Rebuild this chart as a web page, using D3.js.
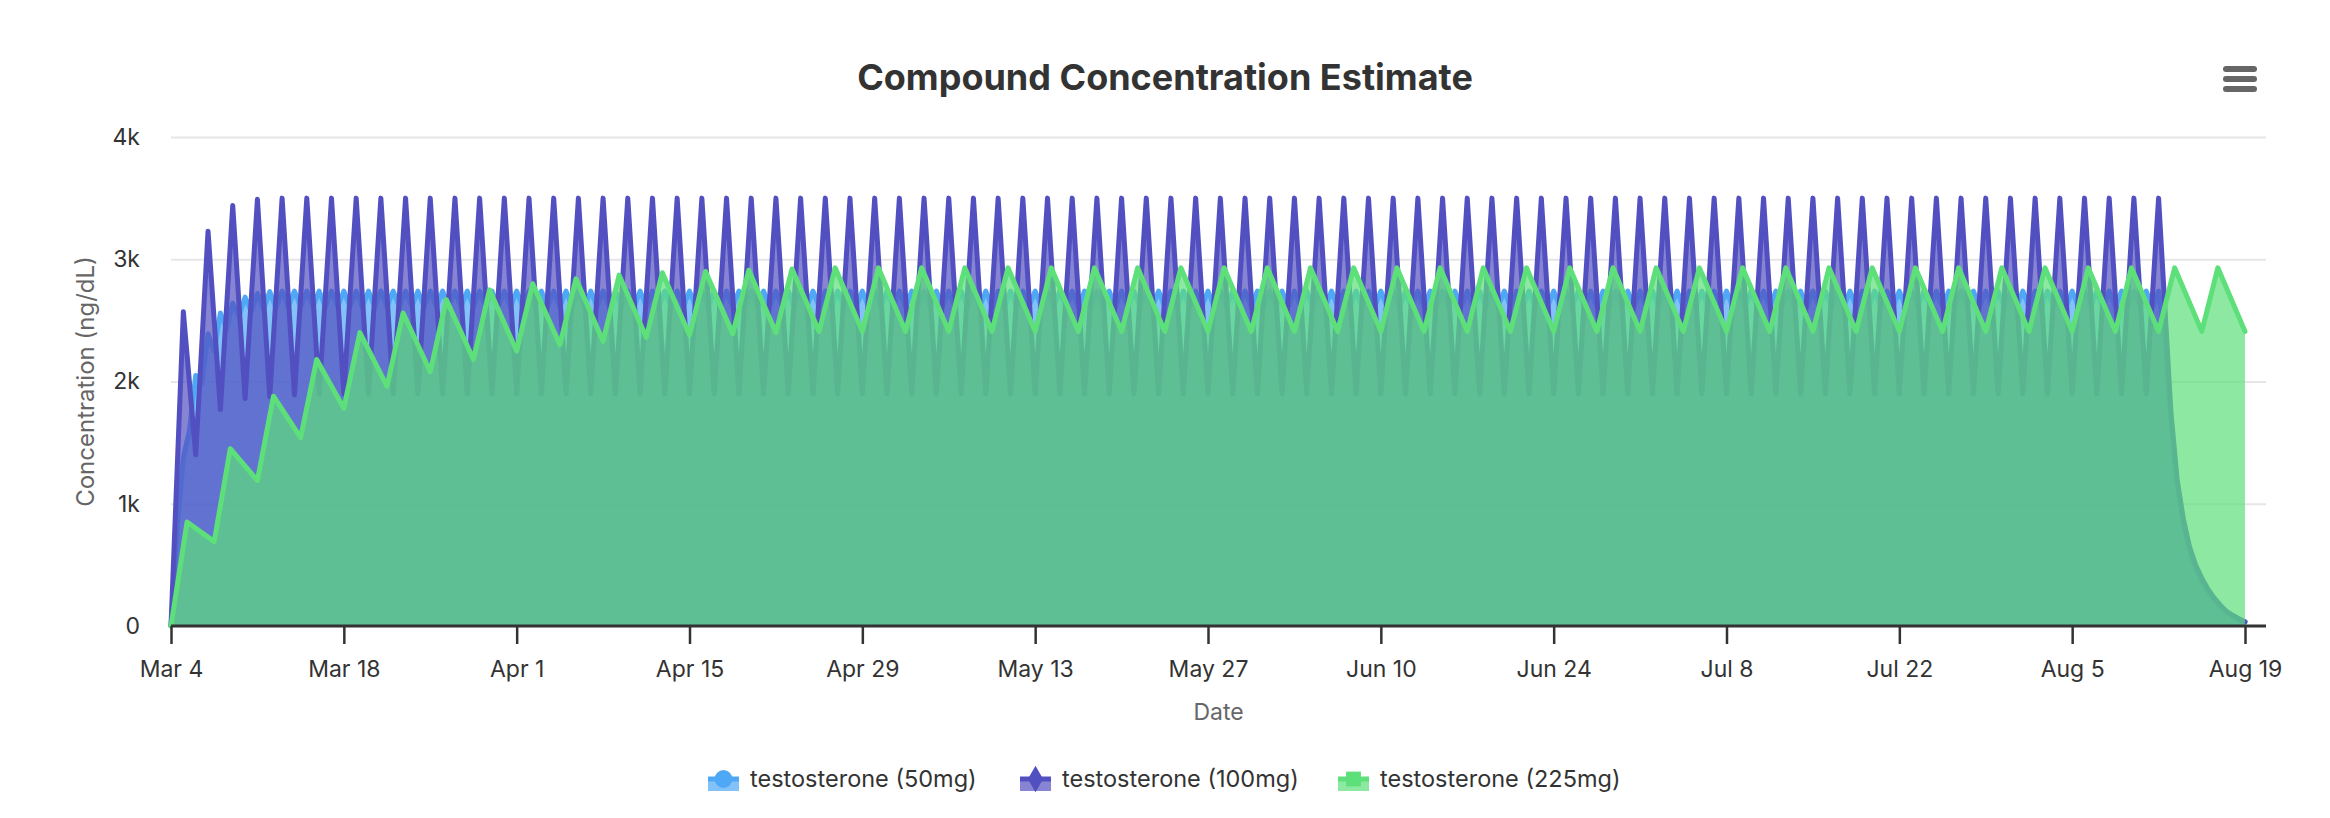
<!DOCTYPE html>
<html>
<head>
<meta charset="utf-8">
<script src="https://cdn.jsdelivr.net/npm/d3@7"></script>
<style>
  html, body { margin: 0; padding: 0; background: #fff; }
  svg text { font-family: "Inter", "Noto Sans", "DejaVu Sans", sans-serif; }
</style>
</head>
<body>
<div id="chart"></div>
<script>
// start / end of the simulated period
const startDate = "2024-03-04";
const endDate = "2024-08-19";
const tickDates = ["2024-03-04", "2024-03-18", "2024-04-01", "2024-04-15", "2024-04-29", "2024-05-13",
  "2024-05-27", "2024-06-10", "2024-06-24", "2024-07-08", "2024-07-22", "2024-08-05", "2024-08-19"];
const yTicks = [0, 1000, 2000, 3000, 4000];

const seriesNames = ["testosterone (50mg)", "testosterone (100mg)", "testosterone (225mg)"];

// 50mg daily: value at each whole day (day 0..161) and at each half day (0.5..160.5)
const blueDay = [
  0, 1380, 2050, 2390, 2560, 2640, 2690, 2720, 2735, 2740,
  2740, 2740, 2740, 2740, 2740, 2740, 2740, 2740, 2740, 2740,
  2740, 2740, 2740, 2740, 2740, 2740, 2740, 2740, 2740, 2740,
  2740, 2740, 2740, 2740, 2740, 2740, 2740, 2740, 2740, 2740,
  2740, 2740, 2740, 2740, 2740, 2740, 2740, 2740, 2740, 2740,
  2740, 2740, 2740, 2740, 2740, 2740, 2740, 2740, 2740, 2740,
  2740, 2740, 2740, 2740, 2740, 2740, 2740, 2740, 2740, 2740,
  2740, 2740, 2740, 2740, 2740, 2740, 2740, 2740, 2740, 2740,
  2740, 2740, 2740, 2740, 2740, 2740, 2740, 2740, 2740, 2740,
  2740, 2740, 2740, 2740, 2740, 2740, 2740, 2740, 2740, 2740,
  2740, 2740, 2740, 2740, 2740, 2740, 2740, 2740, 2740, 2740,
  2740, 2740, 2740, 2740, 2740, 2740, 2740, 2740, 2740, 2740,
  2740, 2740, 2740, 2740, 2740, 2740, 2740, 2740, 2740, 2740,
  2740, 2740, 2740, 2740, 2740, 2740, 2740, 2740, 2740, 2740,
  2740, 2740, 2740, 2740, 2740, 2740, 2740, 2740, 2740, 2740,
  2740, 2740, 2740, 2740, 2740, 2740, 2740, 2740, 2740, 2740,
  2740, 2740
];
const blueHalf = [
  800, 1600, 1980, 2250, 2430, 2530, 2570, 2590, 2600, 2610,
  2610, 2610, 2610, 2610, 2610, 2610, 2610, 2610, 2610, 2610,
  2610, 2610, 2610, 2610, 2610, 2610, 2610, 2610, 2610, 2610,
  2610, 2610, 2610, 2610, 2610, 2610, 2610, 2610, 2610, 2610,
  2610, 2610, 2610, 2610, 2610, 2610, 2610, 2610, 2610, 2610,
  2610, 2610, 2610, 2610, 2610, 2610, 2610, 2610, 2610, 2610,
  2610, 2610, 2610, 2610, 2610, 2610, 2610, 2610, 2610, 2610,
  2610, 2610, 2610, 2610, 2610, 2610, 2610, 2610, 2610, 2610,
  2610, 2610, 2610, 2610, 2610, 2610, 2610, 2610, 2610, 2610,
  2610, 2610, 2610, 2610, 2610, 2610, 2610, 2610, 2610, 2610,
  2610, 2610, 2610, 2610, 2610, 2610, 2610, 2610, 2610, 2610,
  2610, 2610, 2610, 2610, 2610, 2610, 2610, 2610, 2610, 2610,
  2610, 2610, 2610, 2610, 2610, 2610, 2610, 2610, 2610, 2610,
  2610, 2610, 2610, 2610, 2610, 2610, 2610, 2610, 2610, 2610,
  2610, 2610, 2610, 2610, 2610, 2610, 2610, 2610, 2610, 2610,
  2610, 2610, 2610, 2610, 2610, 2610, 2610, 2610, 2610, 2610,
  2610
];
const blueTail = [[161.5, 2350], [162, 1700], [162.5, 1150], [163, 840], [163.5, 620], [164, 470],
  [164.5, 360], [165, 280], [165.5, 215], [166, 160], [166.5, 115], [167, 80], [167.5, 52], [168, 30]];

// 100mg every 2 days: troughs on even days (0..160), peaks on odd days (1..161)
const purpleTroughs = [
  0, 1400, 1770, 1860, 1875, 1890, 1900, 1900, 1900, 1900,
  1900, 1900, 1900, 1900, 1900, 1900, 1900, 1900, 1900, 1900,
  1900, 1900, 1900, 1900, 1900, 1900, 1900, 1900, 1900, 1900,
  1900, 1900, 1900, 1900, 1900, 1900, 1900, 1900, 1900, 1900,
  1900, 1900, 1900, 1900, 1900, 1900, 1900, 1900, 1900, 1900,
  1900, 1900, 1900, 1900, 1900, 1900, 1900, 1900, 1900, 1900,
  1900, 1900, 1900, 1900, 1900, 1900, 1900, 1900, 1900, 1900,
  1900, 1900, 1900, 1900, 1900, 1900, 1900, 1900, 1900, 1900,
  1900
];
const purplePeaks = [
  2570, 3230, 3440, 3490, 3500, 3500, 3500, 3500, 3500, 3500,
  3500, 3500, 3500, 3500, 3500, 3500, 3500, 3500, 3500, 3500,
  3500, 3500, 3500, 3500, 3500, 3500, 3500, 3500, 3500, 3500,
  3500, 3500, 3500, 3500, 3500, 3500, 3500, 3500, 3500, 3500,
  3500, 3500, 3500, 3500, 3500, 3500, 3500, 3500, 3500, 3500,
  3500, 3500, 3500, 3500, 3500, 3500, 3500, 3500, 3500, 3500,
  3500, 3500, 3500, 3500, 3500, 3500, 3500, 3500, 3500, 3500,
  3500, 3500, 3500, 3500, 3500, 3500, 3500, 3500, 3500, 3500,
  3500
];
const purpleTail = [[162, 1750], [162.5, 1200], [163, 880], [163.5, 650], [164, 500], [164.5, 390],
  [165, 300], [165.5, 230], [166, 170], [166.5, 120], [167, 88], [167.5, 60], [168, 35]];

// 225mg every 3.5 days: troughs at each dose, peaks 1.3 days later
const greenInterval = 3.5;
const greenPeakLag = 1.3;
const greenTroughs = [
  0, 690, 1190, 1540, 1780, 1960, 2080, 2180, 2250, 2300,
  2330, 2360, 2380, 2390, 2400, 2410, 2410, 2410, 2410, 2410,
  2410, 2410, 2410, 2410, 2410, 2410, 2410, 2410, 2410, 2410,
  2410, 2410, 2410, 2410, 2410, 2410, 2410, 2410, 2410, 2410,
  2410, 2410, 2410, 2410, 2410, 2410, 2410, 2410, 2410
];
const greenPeaks = [
  850, 1450, 1880, 2180, 2400, 2560, 2670, 2750, 2800, 2840,
  2870, 2890, 2900, 2910, 2920, 2930, 2930, 2930, 2930, 2930,
  2930, 2930, 2930, 2930, 2930, 2930, 2930, 2930, 2930, 2930,
  2930, 2930, 2930, 2930, 2930, 2930, 2930, 2930, 2930, 2930,
  2930, 2930, 2930, 2930, 2930, 2930, 2930, 2930
];

// build [day, value] series
const blueData = [];
blueDay.forEach((v, i) => {
  blueData.push([i, v]);
  if (i < blueHalf.length) blueData.push([i + 0.5, blueHalf[i]]);
});
blueTail.forEach(p => blueData.push(p));

const purpleData = [];
purpleTroughs.forEach((v, i) => {
  purpleData.push([i * 2, v]);
  if (i < purplePeaks.length) purpleData.push([i * 2 + 1, purplePeaks[i]]);
});
purpleTail.forEach(p => purpleData.push(p));

const greenData = [];
greenTroughs.forEach((v, i) => {
  greenData.push([i * greenInterval, v]);
  if (i < greenPeaks.length) greenData.push([i * greenInterval + greenPeakLag, greenPeaks[i]]);
});

const series = [
  { name: seriesNames[0], data: blueData, color: "#4fa8f5", marker: "circle" },
  { name: seriesNames[1], data: purpleData, color: "#5250c0", marker: "diamond" },
  { name: seriesNames[2], data: greenData, color: "#5ddf7a", marker: "square" }
];

const W = 2330, H = 818;
const plotLeft = 171, plotRight = 2266, plotTop = 137, plotBottom = 626;
const dataRight = 2245;

const svg = d3.select("#chart").append("svg")
  .attr("width", W)
  .attr("height", H);

const parse = d3.utcParse("%Y-%m-%d");
const t0 = parse(startDate);
const dayToDate = d => new Date(t0.getTime() + d * 864e5);

const x = d3.scaleUtc()
  .domain([t0, parse(endDate)])
  .range([plotLeft, dataRight]);

const y = d3.scaleLinear()
  .domain([0, 4000])
  .range([plotBottom, plotTop]);

// 网格线
svg.append("g")
  .attr("transform", `translate(${plotLeft},0)`)
  .call(d3.axisLeft(y).tickValues(yTicks.slice(1)).tickSize(-(plotRight - plotLeft)).tickFormat(""))
  .call(g => g.select(".domain").remove())
  .call(g => g.selectAll("line").attr("stroke", "#e6e6e6").attr("stroke-width", 2));

// Y 轴标签
svg.append("g")
  .attr("transform", `translate(${plotLeft},0)`)
  .call(d3.axisLeft(y).tickValues(yTicks).tickSize(0).tickPadding(31)
    .tickFormat(d => d === 0 ? "0" : (d / 1000) + "k"))
  .call(g => g.select(".domain").remove())
  .call(g => g.selectAll("text").attr("fill", "#333").attr("font-size", 23));

// 面积和折线
const area = d3.area()
  .x(d => x(dayToDate(d[0])))
  .y0(y(0))
  .y1(d => y(d[1]));

const line = d3.line()
  .x(d => x(dayToDate(d[0])))
  .y(d => y(d[1]));

series.forEach(s => {
  const g = svg.append("g");
  g.append("path")
    .attr("d", area(s.data))
    .attr("fill", s.color)
    .attr("fill-opacity", 0.7);
  g.append("path")
    .attr("d", line(s.data))
    .attr("fill", "none")
    .attr("stroke", s.color)
    .attr("stroke-width", 5)
    .attr("stroke-linejoin", "round")
    .attr("stroke-linecap", "round");
});

// X 轴
svg.append("g")
  .attr("transform", `translate(0,${plotBottom})`)
  .call(d3.axisBottom(x).tickValues(tickDates.map(parse)).tickSize(18).tickPadding(17)
    .tickFormat(d3.utcFormat("%b %-d")))
  .call(g => g.select(".domain").attr("d", `M${plotLeft},0H${plotRight}`)
    .attr("stroke", "#333").attr("stroke-width", 3))
  .call(g => g.selectAll(".tick line").attr("stroke", "#333").attr("stroke-width", 2.5))
  .call(g => g.selectAll("text").attr("fill", "#333").attr("font-size", 23));

// 标题
svg.append("text")
  .attr("x", W / 2)
  .attr("y", 90)
  .attr("text-anchor", "middle")
  .attr("font-size", 36)
  .attr("font-weight", 700)
  .attr("fill", "#333")
  .text("Compound Concentration Estimate");

svg.append("text")
  .attr("transform", `translate(86,${(plotTop + plotBottom) / 2}) rotate(-90)`)
  .attr("text-anchor", "middle")
  .attr("dy", "0.35em")
  .attr("font-size", 24)
  .attr("fill", "#666")
  .text("Concentration (ng/dL)");

svg.append("text")
  .attr("x", (plotLeft + plotRight) / 2)
  .attr("y", 720)
  .attr("text-anchor", "middle")
  .attr("font-size", 23)
  .attr("fill", "#666")
  .text("Date");

// 菜单按钮
[69, 79, 89].forEach(cy => {
  svg.append("rect")
    .attr("x", 2223).attr("y", cy - 3)
    .attr("width", 34).attr("height", 6)
    .attr("rx", 3)
    .attr("fill", "#666");
});

// 图例
const legendX = [708, 1020, 1338];
const symbol = {
  circle: d3.symbol(d3.symbolCircle, 250),
  diamond: d3.symbol(d3.symbolDiamond, 200),
  square: d3.symbol(d3.symbolSquare, 220)
};
series.forEach((s, i) => {
  const g = svg.append("g").attr("transform", `translate(${legendX[i]},779)`);
  g.append("rect")
    .attr("x", 0).attr("y", 0)
    .attr("width", 31).attr("height", 12)
    .attr("fill", s.color).attr("fill-opacity", 0.7);
  g.append("line")
    .attr("x1", 0).attr("x2", 31)
    .attr("stroke", s.color).attr("stroke-width", 5);
  g.append("path")
    .attr("transform", "translate(15.5,0)")
    .attr("d", symbol[s.marker]())
    .attr("fill", s.color);
  g.append("text")
    .attr("x", 42)
    .attr("dy", "0.35em")
    .attr("font-size", 23.5)
    .attr("fill", "#333")
    .text(s.name);
});
</script>
</body>
</html>
